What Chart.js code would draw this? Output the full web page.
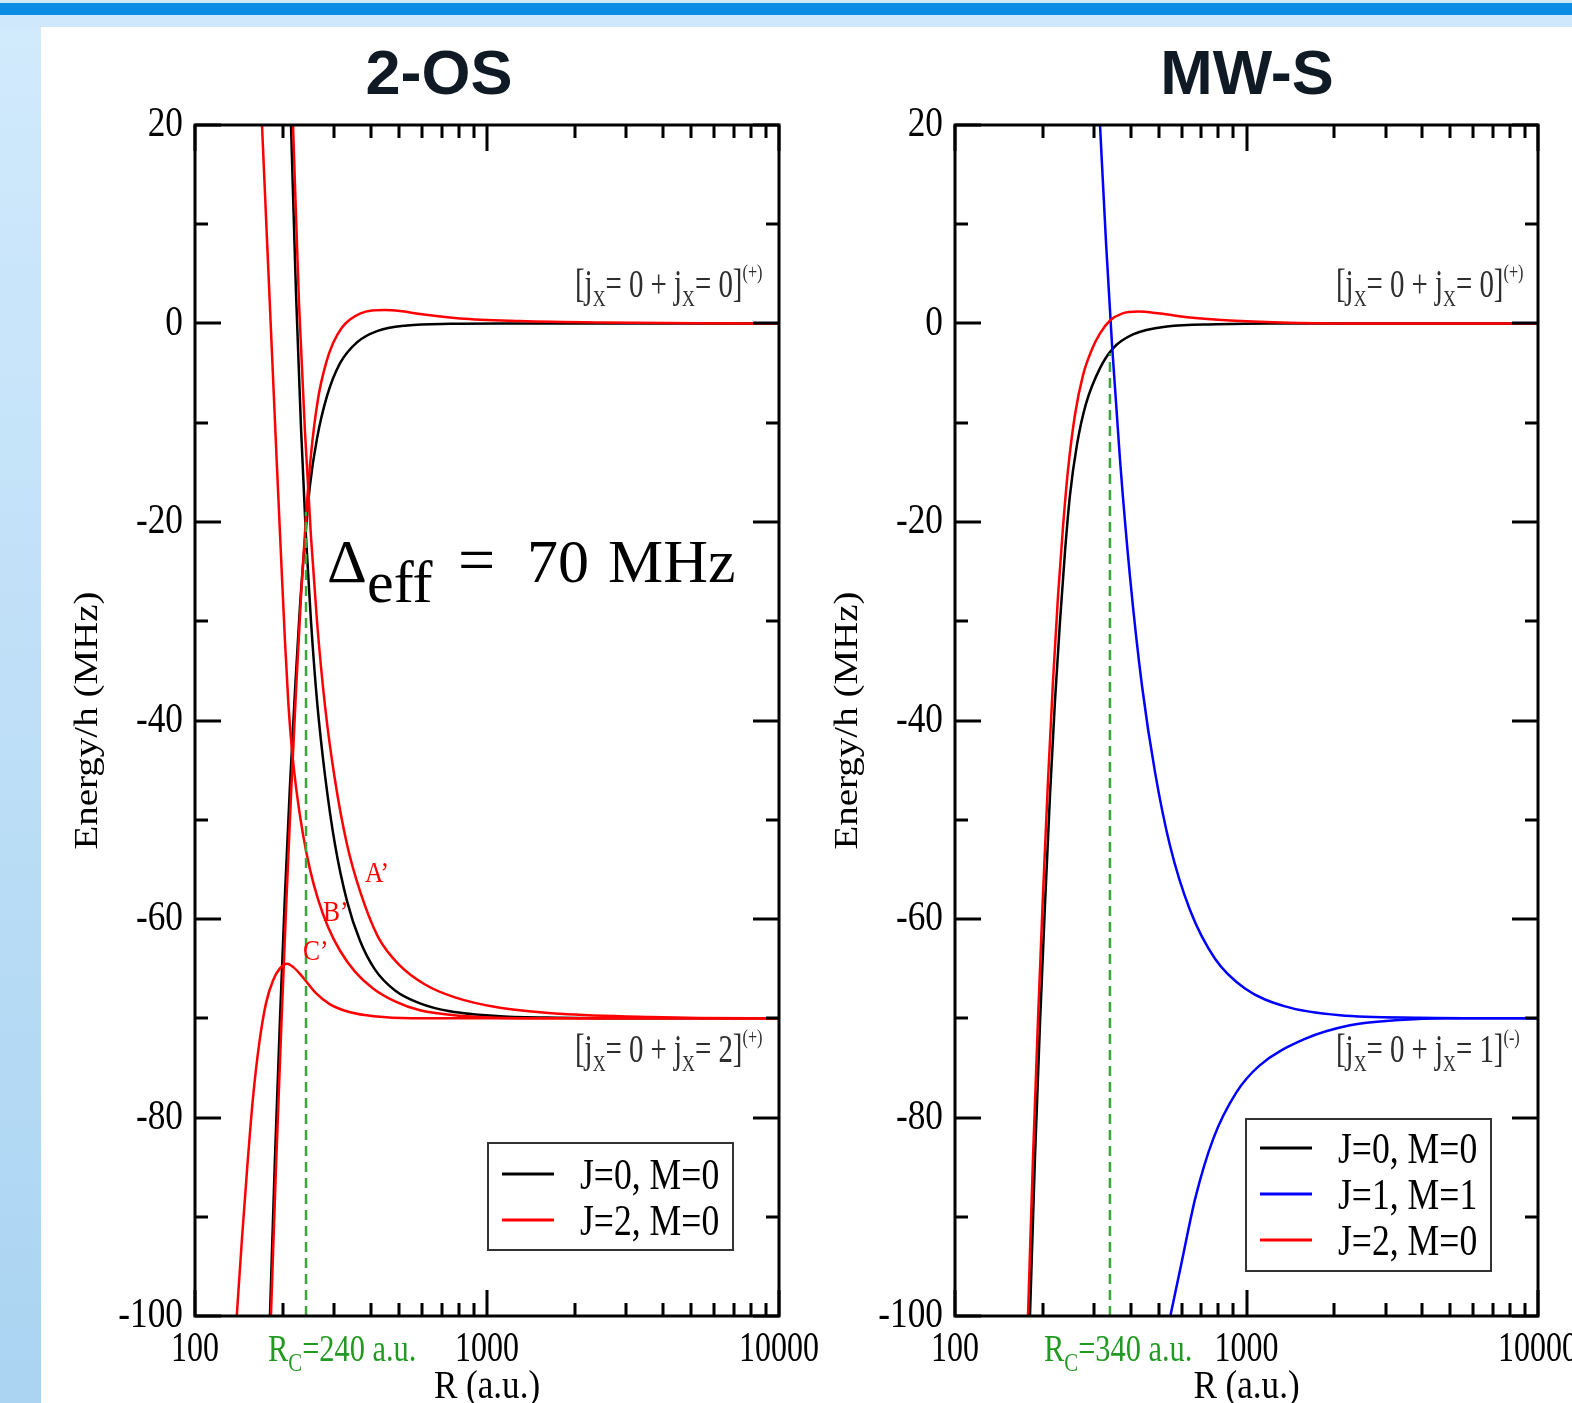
<!DOCTYPE html>
<html lang="en">
<head>
<meta charset="UTF-8">
<title>2-OS / MW-S potential curves</title>
<script src="https://cdn.jsdelivr.net/npm/chart.js@4.4.8/dist/chart.umd.min.js"></script>
<style>
  html, body { margin: 0; padding: 0; width: 1572px; height: 1403px; overflow: hidden; }
  body { position: relative; background: linear-gradient(to bottom, #d2eafc, #aad4f2); }
  .band { position: absolute; left: 0; top: 0; width: 100%; height: 27px; background: #cfe8fc; }
  .bar { position: absolute; left: 0; top: 3px; width: 100%; height: 12px; background: #0b8de6; }
  .sheet { position: absolute; left: 41px; top: 27px; right: 0; bottom: 0; background: #fff; }
  .title { position: absolute; top: 36px; line-height: 63px; transform: translateX(-50%);
           font: bold 63px "Liberation Sans", Arial, sans-serif; color: #0f1a24; white-space: nowrap; }
  canvas { position: absolute; top: 100px; }
</style>
</head>
<body>
<div class="band"></div>
<div class="bar"></div>
<div class="sheet"></div>
<div class="title" style="left:439px">2-OS</div>
<div class="title" style="left:1247px">MW-S</div>
<canvas id="os" width="790" height="1303" style="left:41px"></canvas>
<canvas id="mw" width="757" height="1303" style="left:815px"></canvas>

<script>
// axes
const xTicks = [100, 200, 300, 400, 500, 600, 700, 800, 900, 1000,
                2000, 3000, 4000, 5000, 6000, 7000, 8000, 9000, 10000];
const xLabels = [100, 1000, 10000];
const yTicks = [-100, -90, -80, -70, -60, -50, -40, -30, -20, -10, 0, 10, 20];
const yLabels = [-100, -80, -60, -40, -20, 0, 20];

// ---- 2-OS panel ----
// J=0 attractive branch
const osJ0inR = [180.6, 187.9, 195.5, 203.3, 211.5, 220, 228.8, 238.1, 247.6, 261.7, 283.3, 313.9, 358.7, 420.1, 532.1, 746.8, 1108, 10000];
const osJ0inE = [-100, -84, -70, -57.5, -46.5, -37, -28.5, -21.8, -16.3, -11.6, -7.3, -4.0, -1.9, -0.77, -0.2, -0.03, 0, 0];
// J=0 repulsive branch
const osJ0outR = [213.2, 221.8, 230.7, 239.9, 249.6, 261.7, 278.7, 301.6, 331.6, 367.4, 413.5, 484.2, 589.5, 746.8, 1108, 1778, 3615, 10000];
const osJ0outE = [20, 3, -10.5, -21.5, -30, -38, -45.5, -52.5, -58.2, -62.2, -65.1, -67.2, -68.5, -69.3, -69.8, -69.95, -70, -70];
// J=2 attractive branch
const osJ2inR = [182, 189.4, 197.1, 205, 213.2, 221.8, 230.7, 239.9, 249.6, 263.8, 281, 296.9, 318.7, 339.5, 367.4, 403.9, 447.4, 503.6, 589.5, 808.3, 1297, 2438, 5364, 10000];
const osJ2inE = [-100, -85, -71.5, -59, -47.5, -37, -27.5, -19.5, -13.2, -7.6, -4.0, -2.0, -0.4, 0.4, 1.0, 1.3, 1.35, 1.25, 0.95, 0.5, 0.25, 0.1, 0.02, 0];
// J=2 curves A', B', C'
const osAR = [216.6, 227.1, 238.1, 249.6, 261.7, 278.7, 301.6, 331.6, 367.4, 423.4, 503.6, 613.3, 776.7, 1108, 1778, 3615, 7958, 10000];
const osAE = [20, 2, -11, -21.5, -30, -38.5, -46, -52.5, -57.2, -61.8, -64.7, -66.6, -67.9, -68.95, -69.55, -69.88, -70, -70];
const osBR = [169.6, 176.4, 183.5, 190.9, 197.1, 203.3, 209, 214.9, 223.6, 234.4, 247.6, 263.8, 285.5, 313.9, 353, 407.1, 484.2, 589.5, 808.3, 1297, 10000];
const osBE = [20, 8.5, -3, -14.5, -23.5, -32, -38.5, -43, -47.5, -51.5, -55, -58, -60.8, -63.2, -65.3, -67, -68.3, -69.2, -69.75, -70, -70];
const osCR = [139, 145, 151, 158, 166, 175, 185, 195, 207, 218, 230, 242, 260, 290, 340, 410, 550, 10000];
const osCE = [-100, -92, -85, -78, -72.5, -68.5, -66.2, -65, -64.5, -64.9, -65.6, -66.4, -67.5, -68.6, -69.4, -69.8, -70, -70];
const osRc = 240;
const osRcE = [-100, -19];

// ---- MW-S panel ----
const mwJ0inR = [180.8, 188.1, 195.7, 203.6, 211.8, 220.3, 229.2, 238.4, 248, 262.1, 281.4, 314.4, 348.4, 407.9, 533.6, 792.1, 1204, 10000];
const mwJ0inE = [-100, -84, -70.5, -58.5, -47.5, -38, -30, -23, -17.3, -12.2, -8.1, -4.5, -2.5, -1.1, -0.3, -0.08, 0, 0];
const mwJ2inR = [178, 185.2, 192.7, 200.4, 208.5, 216.9, 225.6, 234.7, 244.1, 258, 274.9, 295.1, 314.4, 340.3, 374, 424.5, 505, 640, 877.8, 1303, 2265, 10000];
const mwJ2inE = [-100, -84, -70, -57.5, -46, -36, -27.5, -20.5, -14.8, -9.2, -5.2, -2.6, -1.0, 0.3, 1.0, 1.2, 1.0, 0.6, 0.3, 0.1, 0, 0];
const mwJ1aR = [314.4, 329.6, 345.6, 368.1, 398.4, 438, 485.5, 546.4, 640, 779.8, 988.2, 1356, 2093, 3937, 7406, 10000];
const mwJ1aE = [20, 8.2, -2.1, -13.7, -25.5, -36.5, -45.2, -52.6, -59.1, -64, -67, -68.8, -69.7, -69.95, -70, -70];
const mwJ1bR = [548, 598, 669, 770, 922, 1105, 1580, 2265, 3238, 5000, 10000];
const mwJ1bE = [-100, -94.7, -88, -82.1, -77.5, -74.8, -72.1, -70.7, -70.2, -70, -70];
const mwRc = 340;
const mwRcE = [-100, -3];

const BLACK = '#000000', RED = '#ff0000', BLUE = '#0000ff', GREEN = '#3aa63a';
const SERIF = '"Liberation Serif", "Times New Roman", serif';

function pts(rs, es) { return rs.map((r, i) => ({ x: r, y: es[i] })); }
function curve(label, color, rs, es) {
  return { label, data: pts(rs, es), borderColor: color, borderWidth: 2.5, pointRadius: 0,
           fill: false, cubicInterpolationMode: 'monotone' };
}
function marker(r, es) {
  return { label: 'Rc', data: pts([r, r], es), borderColor: GREEN, borderWidth: 2.5,
           borderDash: [10, 6], pointRadius: 0, fill: false };
}

function txt(ctx, s, x, y, size, o = {}) {
  ctx.save();
  ctx.font = size + 'px ' + SERIF;
  ctx.fillStyle = o.color || '#000';
  ctx.textAlign = o.align || 'left';
  ctx.textBaseline = o.baseline || 'alphabetic';
  ctx.translate(x, y);
  if (o.rot) ctx.rotate(o.rot);
  ctx.scale(o.sx || 1, o.sy || 1);
  ctx.fillText(s, 0, 0);
  ctx.restore();
}

// runs of text with their own size and vertical shift (sub/superscripts)
function rich(ctx, x, y, parts, sx, color) {
  ctx.save();
  ctx.fillStyle = color;
  ctx.textBaseline = 'alphabetic';
  ctx.translate(x, y);
  ctx.scale(sx, 1);
  let cx = 0;
  for (const [s, size, dy] of parts) {
    ctx.font = size + 'px ' + SERIF;
    ctx.fillText(s, cx, dy);
    cx += ctx.measureText(s).width;
  }
  ctx.restore();
}
function tag(n, sign) {
  return [['[j', 39, 0], ['X', 24, 9], ['= 0 + j', 39, 0], ['X', 24, 9], ['= ' + n + ']', 39, 0], [sign, 22, -18]];
}

function decor(p) {
  return {
    id: 'decor',
    afterDatasetsDraw(chart) {
      const ctx = chart.ctx, a = chart.chartArea, xs = chart.scales.x, ys = chart.scales.y;
      ctx.save();
      ctx.translate(-p.left, -p.top); // page coordinates
      const L = a.left + p.left, R = a.right + p.left, T = a.top + p.top, B = a.bottom + p.top;

      // inward ticks on all four sides, then the frame
      ctx.strokeStyle = '#000';
      ctx.lineWidth = 3;
      ctx.beginPath();
      xs.ticks.forEach(t => {
        const x = Math.round(xs.getPixelForValue(t.value)) + p.left;
        const len = xLabels.includes(t.value) ? 26 : 13;
        ctx.moveTo(x, B); ctx.lineTo(x, B - len);
        ctx.moveTo(x, T); ctx.lineTo(x, T + len);
      });
      ys.ticks.forEach(t => {
        const y = Math.round(ys.getPixelForValue(t.value)) + p.top;
        const len = yLabels.includes(t.value) ? 26 : 13;
        ctx.moveTo(L, y); ctx.lineTo(L + len, y);
        ctx.moveTo(R, y); ctx.lineTo(R - len, y);
      });
      ctx.stroke();
      ctx.strokeRect(L, T, R - L, B - T);

      xLabels.forEach(v => txt(ctx, String(v), xs.getPixelForValue(v) + p.left, B + 45, 42, { align: 'center', sx: 0.76 }));
      yLabels.forEach(v => txt(ctx, String(v), L - 12, ys.getPixelForValue(v) + p.top, 42, { align: 'right', baseline: 'middle', sx: 0.84 }));

      txt(ctx, 'R (a.u.)', (L + R) / 2, 1398, 39, { align: 'center', sx: 0.9 });
      txt(ctx, 'Energy/h (MHz)', L - 98, (T + B) / 2, 39, { align: 'center', rot: -Math.PI / 2, sy: 0.85 });

      // legend: first dataset of each label, in the given order
      const lg = p.legend;
      ctx.fillStyle = '#fff';
      ctx.fillRect(lg.x, lg.y, lg.w, lg.h);
      ctx.strokeStyle = '#333';
      ctx.lineWidth = 2;
      ctx.strokeRect(lg.x, lg.y, lg.w, lg.h);
      lg.order.forEach((name, i) => {
        const ds = chart.data.datasets.find(d => d.label === name);
        const y = lg.y + lg.first + i * lg.step;
        ctx.strokeStyle = ds.borderColor;
        ctx.lineWidth = 3;
        ctx.beginPath(); ctx.moveTo(lg.x + 14, y); ctx.lineTo(lg.x + 66, y); ctx.stroke();
        txt(ctx, name, lg.x + 92, y + 15, 44, { sx: 0.81 });
      });

      p.notes(ctx);
      ctx.restore();
    }
  };
}

function panel(id, p, datasets) {
  return new Chart(document.getElementById(id), {
    type: 'line',
    data: { datasets },
    options: {
      responsive: false,
      animation: false,
      events: [],
      layout: { padding: { left: 0, top: 25, right: p.padRight, bottom: 0 } },
      plugins: { legend: { display: false }, tooltip: { enabled: false }, title: { display: false } },
      scales: {
        x: {
          type: 'logarithmic', min: 100, max: 10000,
          grid: { display: false }, border: { display: false }, ticks: { display: false },
          afterBuildTicks: s => { s.ticks = xTicks.map(v => ({ value: v })); },
          afterFit: s => { s.height = 87; }
        },
        y: {
          type: 'linear', min: -100, max: 20,
          grid: { display: false }, border: { display: false }, ticks: { display: false },
          afterBuildTicks: s => { s.ticks = yTicks.map(v => ({ value: v })); },
          afterFit: s => { s.width = p.yWidth; }
        }
      }
    },
    plugins: [decor(p)]
  });
}

panel('os', {
  left: 41, top: 100, padRight: 52, yWidth: 154,
  legend: { x: 488, y: 1143, w: 245, h: 107, first: 31, step: 46, order: ['J=0, M=0', 'J=2, M=0'] },
  notes(ctx) {
    const grey = '#2e2e2e';
    rich(ctx, 575, 297, tag('0', '(+)'), 0.74, grey);
    rich(ctx, 575, 1062, tag('2', '(+)'), 0.74, grey);
    txt(ctx, '\u0394', 327, 582, 62);
    txt(ctx, 'eff', 367, 602, 60);
    txt(ctx, '=', 458, 582, 66);
    txt(ctx, '70', 527, 582, 62);
    txt(ctx, 'MHz', 608, 582, 62);
    txt(ctx, 'A\u2019', 365, 882, 30, { color: RED, sx: 0.85 });
    txt(ctx, 'B\u2019', 323, 921, 30, { color: RED, sx: 0.85 });
    txt(ctx, 'C\u2019', 303, 960, 30, { color: RED, sx: 0.85 });
    rich(ctx, 268, 1361, [['R', 38, 0], ['C', 26, 10], ['=' + osRc + ' a.u.', 38, 0]], 0.8, '#229922');
  }
}, [
  marker(osRc, osRcE),
  curve('J=2, M=0', RED, osJ2inR, osJ2inE),
  curve('J=2, M=0', RED, osAR, osAE),
  curve('J=2, M=0', RED, osBR, osBE),
  curve('J=2, M=0', RED, osCR, osCE),
  curve('J=0, M=0', BLACK, osJ0inR, osJ0inE),
  curve('J=0, M=0', BLACK, osJ0outR, osJ0outE)
]);

panel('mw', {
  left: 815, top: 100, padRight: 34, yWidth: 140,
  legend: { x: 1246, y: 1119, w: 245, h: 152, first: 29, step: 46, order: ['J=0, M=0', 'J=1, M=1', 'J=2, M=0'] },
  notes(ctx) {
    const grey = '#2e2e2e';
    rich(ctx, 1336, 297, tag('0', '(+)'), 0.74, grey);
    rich(ctx, 1336, 1062, tag('1', '(-)'), 0.74, grey);
    rich(ctx, 1044, 1361, [['R', 38, 0], ['C', 26, 10], ['=' + mwRc + ' a.u.', 38, 0]], 0.8, '#229922');
  }
}, [
  marker(mwRc, mwRcE),
  curve('J=2, M=0', RED, mwJ2inR, mwJ2inE),
  curve('J=1, M=1', BLUE, mwJ1aR, mwJ1aE),
  curve('J=1, M=1', BLUE, mwJ1bR, mwJ1bE),
  curve('J=0, M=0', BLACK, mwJ0inR, mwJ0inE)
]);
</script>
</body>
</html>
